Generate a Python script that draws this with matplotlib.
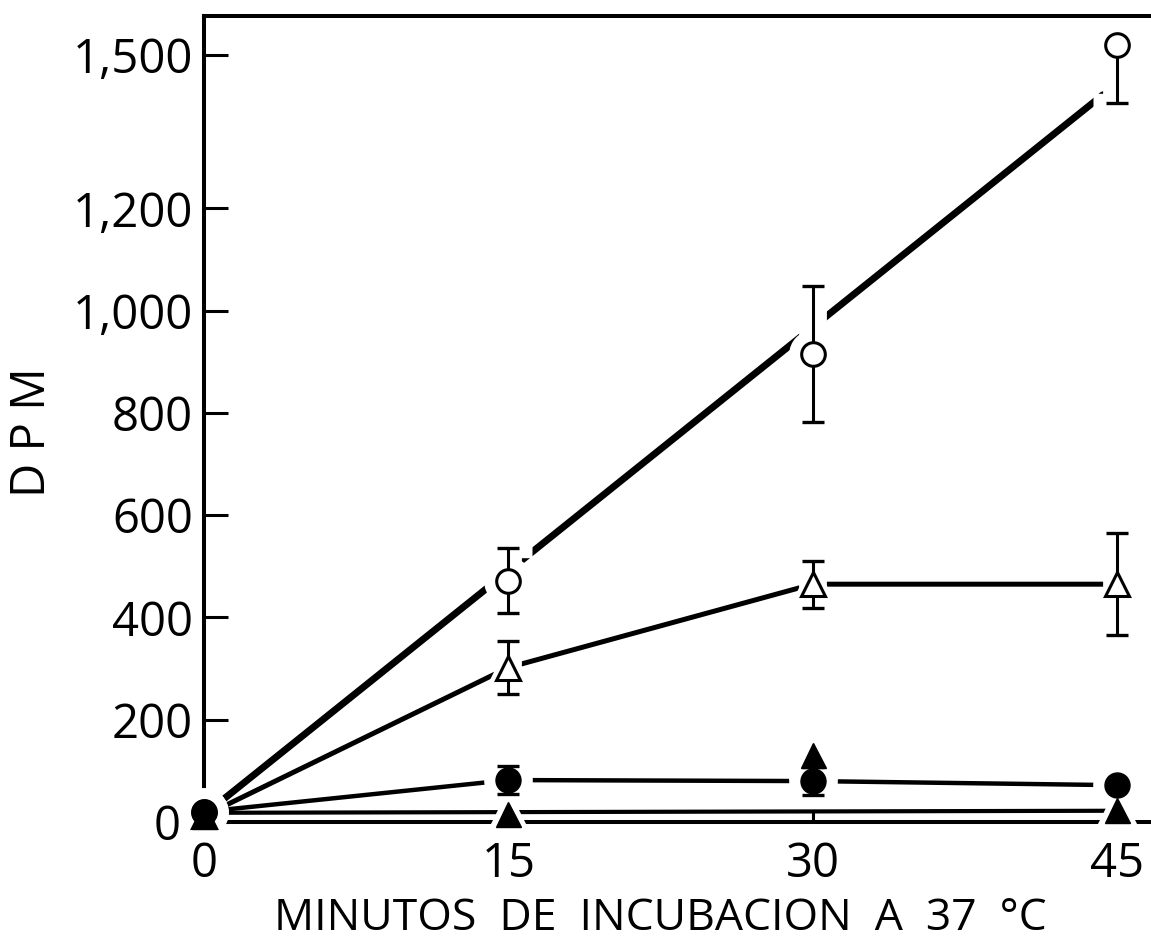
# DPM vs incubation time at 37 C, redrawn from a scanned figure
import matplotlib.pyplot as plt

plt.rcParams['font.family'] = ['Open Sans', 'DejaVu Sans']

# incubation times (minutes)
minutes = [0, 15, 30, 45]

# open circles with a straight fitted line
open_circle = [20, 472, 915, 1520]
open_circle_err_low = [0, 63, 133, 114]
open_circle_err_high = [0, 63, 133, 0]
circle_fit_x = [0, 44.3]
circle_fit_y = [14, 1422]

# open triangles, joined point to point
open_triangle = [12, 302, 465, 465]
open_triangle_err = [0, 52, 46, 100]

# filled circles, joined point to point
filled_circle = [20, 82, 80, 72]
filled_circle_err = [0, 28, 28, 0]

# filled triangles with a flat fitted line
filled_triangle = [12, 16, 131, 23]
tri_fit_x = [0, 45]
tri_fit_y = [18, 22]

y_ticks = [0, 200, 400, 600, 800, 1000, 1200, 1500]
y_tick_labels = ['0 ', '200', '400', '600', '800', '1,000', '1,200', '1,500']
x_ticks = [0, 15, 30, 45]


def draw_errorbars(ax, vals, err_low, err_high, color, lw, cap_w, cap_t, z):
    # error bars drawn by hand so the zorder is exactly what we ask for
    xs, mids, lows, highs = [], [], [], []
    for x, v, lo, hi in zip(minutes, vals, err_low, err_high):
        if lo == 0 and hi == 0:
            continue
        xs.append(x)
        mids.append(v)
        lows.append(v - lo)
        highs.append(v + hi)
    ax.vlines(xs, lows, highs, colors=color, lw=lw, zorder=z, clip_on=False)
    ax.plot(xs, lows, ls='none', marker='_', ms=cap_w, mew=cap_t, color=color, zorder=z, clip_on=False)
    top_x = [x for x, hi, v in zip(xs, highs, mids) if hi > v]
    top_y = [hi for hi, v in zip(highs, mids) if hi > v]
    ax.plot(top_x, top_y, ls='none', marker='_', ms=cap_w, mew=cap_t, color=color, zorder=z, clip_on=False)


fig = plt.figure(figsize=(11.51, 9.44), dpi=100)
ax = fig.add_axes([204 / 1151, 122 / 944, 1 - 204 / 1151, 806 / 944])

# lines first
ax.plot(circle_fit_x, circle_fit_y, color='black', lw=5, solid_capstyle='round', zorder=2, clip_on=False)
ax.plot(minutes, open_triangle, color='black', lw=3.6, solid_capstyle='round', zorder=2, clip_on=False)
ax.plot(minutes, filled_circle, color='black', lw=3.2, solid_capstyle='round', zorder=2, clip_on=False)
ax.plot(tri_fit_x, tri_fit_y, color='black', lw=3.0, solid_capstyle='round', zorder=2, clip_on=False)

err_sets = [
    (open_circle, open_circle_err_low, open_circle_err_high),
    (open_triangle, open_triangle_err, open_triangle_err),
    (filled_circle, filled_circle_err, filled_circle_err),
]

# white halos so lines break around the symbols, as in the original
for vals, lo, hi in err_sets:
    draw_errorbars(ax, vals, lo, hi, 'white', 20, 34, 14, 3)
for vals, m in [(open_circle, 'o'), (open_triangle, '^'), (filled_circle, 'o'), (filled_triangle, '^')]:
    ax.plot(minutes, vals, ls='none', marker=m, ms=34, mfc='white', mec='white', zorder=3, clip_on=False)

# black error bars and symbols
for vals, lo, hi in err_sets:
    draw_errorbars(ax, vals, lo, hi, 'black', 2.2, 16, 2.4, 4)
ax.plot(minutes, open_circle, ls='none', marker='o', ms=17, mfc='white', mec='black', mew=2.2, zorder=5, clip_on=False)
ax.plot(minutes, open_triangle, ls='none', marker='^', ms=17, mfc='white', mec='black', mew=2.2, zorder=5, clip_on=False)
ax.plot(minutes, filled_triangle, ls='none', marker='^', ms=18, color='black', zorder=6, clip_on=False)
ax.plot(minutes, filled_circle, ls='none', marker='o', ms=18, color='black', zorder=6, clip_on=False)

ax.set_xlim(0, 46.67)
ax.set_ylim(0, 1576)
ax.spines['right'].set_visible(False)
for side in ['left', 'top', 'bottom']:
    ax.spines[side].set_linewidth(2.9)

ax.set_yticks(y_ticks)
ax.set_yticklabels(y_tick_labels)
ax.set_xticks(x_ticks)
ax.tick_params(axis='y', direction='in', length=17, width=2.2, pad=8, labelsize=34)
ax.tick_params(axis='x', direction='in', length=7, width=2.2, pad=13, labelsize=34)

fig.text(660 / 1151, 1 - 930 / 944, 'MINUTOS  DE  INCUBACION  A  37  °C',
         ha='center', va='baseline', fontsize=32)
fig.text(32 / 1151, 1 - 432 / 944, 'D P M', rotation=90,
         ha='center', va='center', fontsize=34)

fig.savefig('out.png', dpi=100)
